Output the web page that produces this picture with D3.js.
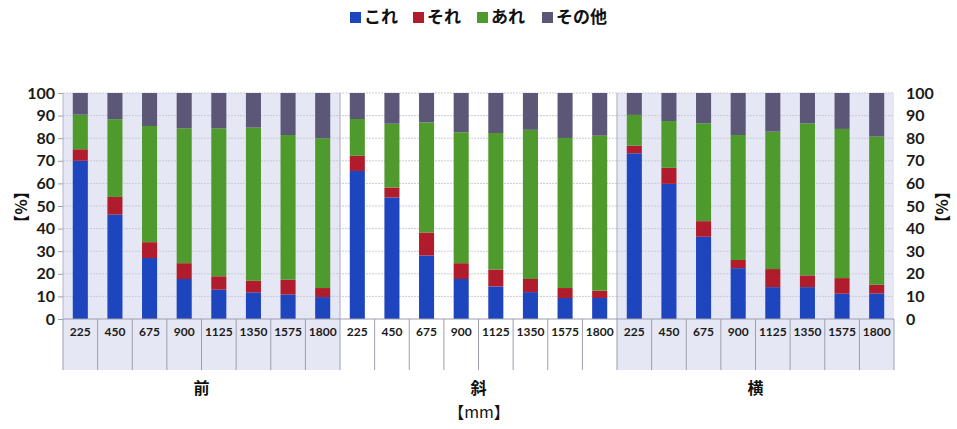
<!DOCTYPE html>
<html>
<head>
<meta charset="utf-8">
<script src="https://cdn.jsdelivr.net/npm/d3@7"></script>
<style>
  html, body { margin: 0; padding: 0; background: #ffffff; }
  svg { display: block; }
</style>
</head>
<body>
<svg id="chart" width="957" height="429"></svg>
<script>
// Viewing positions and distances along the x axis
const groups = ["前", "斜", "横"];
const distances = ["225", "450", "675", "900", "1125", "1350", "1575", "1800"];

// Share of each answer (%) per group, in distance order
const koreFront  = [70.0, 46.2, 27.0, 17.7, 13.0, 11.8, 10.8, 9.7];
const soreFront  = [5.1, 7.8, 7.0, 7.0, 5.9, 5.1, 6.6, 4.0];
const areFront   = [15.3, 34.4, 51.4, 59.7, 65.5, 67.8, 64.0, 66.3];
const otherFront = [9.6, 11.6, 14.6, 15.6, 15.6, 15.3, 18.6, 20.0];

const koreDiag  = [65.5, 53.8, 28.1, 17.7, 14.4, 11.9, 9.3, 9.3];
const soreDiag  = [6.7, 4.4, 10.2, 7.0, 7.5, 5.8, 4.4, 3.2];
const areDiag   = [16.3, 28.2, 48.7, 57.9, 60.4, 66.0, 66.4, 68.6];
const otherDiag = [11.5, 13.6, 13.0, 17.4, 17.7, 16.3, 19.9, 18.9];

const koreSide  = [73.3, 59.8, 36.4, 22.5, 14.1, 14.1, 11.2, 11.3];
const soreSide  = [3.4, 7.1, 6.9, 3.6, 8.0, 5.2, 6.9, 3.9];
const areSide   = [13.6, 20.7, 43.3, 55.3, 60.8, 67.3, 66.0, 65.5];
const otherSide = [9.7, 12.4, 13.4, 18.6, 17.1, 13.4, 15.9, 19.3];

const seriesNames = ["これ", "それ", "あれ", "その他"];
const yTicks = [0, 10, 20, 30, 40, 50, 60, 70, 80, 90, 100];

const seriesByGroup = [
  [koreFront, soreFront, areFront, otherFront],
  [koreDiag, soreDiag, areDiag, otherDiag],
  [koreSide, soreSide, areSide, otherSide]
];

// Flat table: one row per bar
const rows = [];
groups.forEach((g, gi) => {
  distances.forEach((d, di) => {
    const row = { key: g + "-" + d, group: g, gi, dist: d };
    seriesNames.forEach((s, si) => { row[s] = seriesByGroup[gi][si][di]; });
    rows.push(row);
  });
});

const colors = ["#1d45bd", "#b01c2c", "#4f9a2c", "#5d5777"];
const shade = "#e6e7f5";

const svg = d3.select("#chart");
const plot = { left: 63, right: 894, top: 93, bottom: 319 };
const labelBottom = 370;
const perGroup = distances.length;

// Bars sit inside equal-width category cells
const x = d3.scaleBand()
  .domain(rows.map(r => r.key))
  .range([plot.left, plot.right])
  .paddingInner(0.565)
  .paddingOuter(0.2825);
const xCell = d3.scaleBand()
  .domain(rows.map(r => r.key))
  .range([plot.left, plot.right]);
const y = d3.scaleLinear().domain([0, 100]).range([plot.bottom, plot.top]);

// Horizontal extent of one group of cells
const groupSpan = gi => {
  const first = xCell(rows[gi * perGroup].key);
  const last = xCell(rows[gi * perGroup + perGroup - 1].key) + xCell.bandwidth();
  return [first, last];
};

// Shaded backgrounds for the first and last groups (plot + label cells)
[0, 2].forEach(gi => {
  const [a, b] = groupSpan(gi);
  svg.append("rect")
    .attr("x", a).attr("y", plot.top)
    .attr("width", b - a).attr("height", labelBottom - plot.top)
    .attr("fill", shade);
});

// Horizontal gridlines
svg.append("g")
  .selectAll("line")
  .data(yTicks.filter(t => t > 0))
  .join("line")
  .attr("x1", plot.left).attr("x2", plot.right)
  .attr("y1", d => y(d)).attr("y2", d => y(d))
  .attr("stroke", "#cbcbd8")
  .attr("stroke-width", 1)
  .attr("stroke-dasharray", "2,1");

// Group separators through the plot
[1, 2].forEach(gi => {
  const xs = xCell(rows[gi * perGroup].key);
  svg.append("line")
    .attr("x1", xs).attr("x2", xs)
    .attr("y1", plot.top).attr("y2", plot.bottom)
    .attr("stroke", "#a9a9c0").attr("stroke-width", 1);
});

// Stacked bars
const stacked = d3.stack().keys(seriesNames)(rows);
svg.append("g")
  .selectAll("g")
  .data(stacked)
  .join("g")
  .attr("fill", (d, i) => colors[i])
  .selectAll("rect")
  .data(d => d)
  .join("rect")
  .attr("x", d => x(d.data.key))
  .attr("width", x.bandwidth())
  .attr("y", d => y(d[1]))
  .attr("height", d => y(d[0]) - y(d[1]));

// Category cell separators below the axis
const cellEdges = rows.map(r => xCell(r.key)).concat([plot.right]);
svg.append("g")
  .selectAll("line")
  .data(cellEdges)
  .join("line")
  .attr("x1", d => d).attr("x2", d => d)
  .attr("y1", plot.bottom).attr("y2", labelBottom)
  .attr("stroke", "#9d9db0").attr("stroke-width", 1);

// Axis lines
svg.append("line")
  .attr("x1", plot.left).attr("x2", plot.right)
  .attr("y1", plot.bottom).attr("y2", plot.bottom)
  .attr("stroke", "#9d9db0");
svg.append("line")
  .attr("x1", plot.left).attr("x2", plot.left)
  .attr("y1", plot.top).attr("y2", plot.bottom)
  .attr("stroke", "#b4b4c8");

const numFont = "Lato, 'Open Sans', sans-serif";
const jpFont = "'Noto Sans CJK JP', sans-serif";

// Left value axis
const yAxisL = d3.axisLeft(y).tickValues(yTicks).tickSize(5).tickPadding(3);
const gL = svg.append("g").attr("transform", `translate(${plot.left},0)`).call(yAxisL);
gL.select(".domain").remove();
gL.selectAll(".tick line").attr("stroke", "#9d9db0");
gL.selectAll(".tick text")
  .attr("font-family", numFont).attr("font-size", 16).attr("font-weight", 700)
  .attr("fill", "#1a1a1a");

// Right value axis
const yAxisR = d3.axisRight(y).tickValues(yTicks).tickSize(0).tickPadding(12);
const gR = svg.append("g").attr("transform", `translate(${plot.right},0)`).call(yAxisR);
gR.select(".domain").remove();
gR.selectAll(".tick text")
  .attr("font-family", numFont).attr("font-size", 16).attr("font-weight", 700)
  .attr("fill", "#1a1a1a");

// Distance labels
svg.append("g")
  .selectAll("text")
  .data(rows)
  .join("text")
  .attr("x", d => xCell(d.key) + xCell.bandwidth() / 2)
  .attr("y", 336)
  .attr("text-anchor", "middle")
  .attr("font-family", numFont).attr("font-size", 12).attr("font-weight", 700)
  .attr("fill", "#1a1a1a")
  .text(d => d.dist);

// Group labels
svg.append("g")
  .selectAll("text")
  .data(groups)
  .join("text")
  .attr("x", (g, gi) => { const [a, b] = groupSpan(gi); return (a + b) / 2; })
  .attr("y", 394)
  .attr("text-anchor", "middle")
  .attr("font-family", jpFont).attr("font-size", 16).attr("font-weight", 700)
  .attr("fill", "#111")
  .text(d => d);

// Axis titles
svg.append("text")
  .attr("x", (plot.left + plot.right) / 2 + 0.5).attr("y", 418)
  .attr("text-anchor", "middle")
  .attr("font-family", jpFont).attr("font-size", 16)
  .attr("fill", "#111")
  .text("【mm】");
[[20, 207], [941, 207]].forEach(([cx, cy]) => {
  svg.append("text")
    .attr("transform", `translate(${cx},${cy}) rotate(-90)`)
    .attr("text-anchor", "middle")
    .attr("dominant-baseline", "central")
    .attr("font-family", jpFont).attr("font-size", 16).attr("font-weight", 700)
    .attr("fill", "#111")
    .text("【%】");
});

// Legend
const legendX = [350, 413, 477, 542];
const legend = svg.append("g")
  .selectAll("g")
  .data(seriesNames)
  .join("g")
  .attr("transform", (d, i) => `translate(${legendX[i]},12)`);
legend.append("rect")
  .attr("width", 11).attr("height", 11)
  .attr("fill", (d, i) => colors[i]);
legend.append("text")
  .attr("x", 14).attr("y", 11)
  .attr("font-family", jpFont).attr("font-size", 17).attr("font-weight", 700)
  .attr("fill", "#111")
  .text(d => d);
</script>
</body>
</html>
